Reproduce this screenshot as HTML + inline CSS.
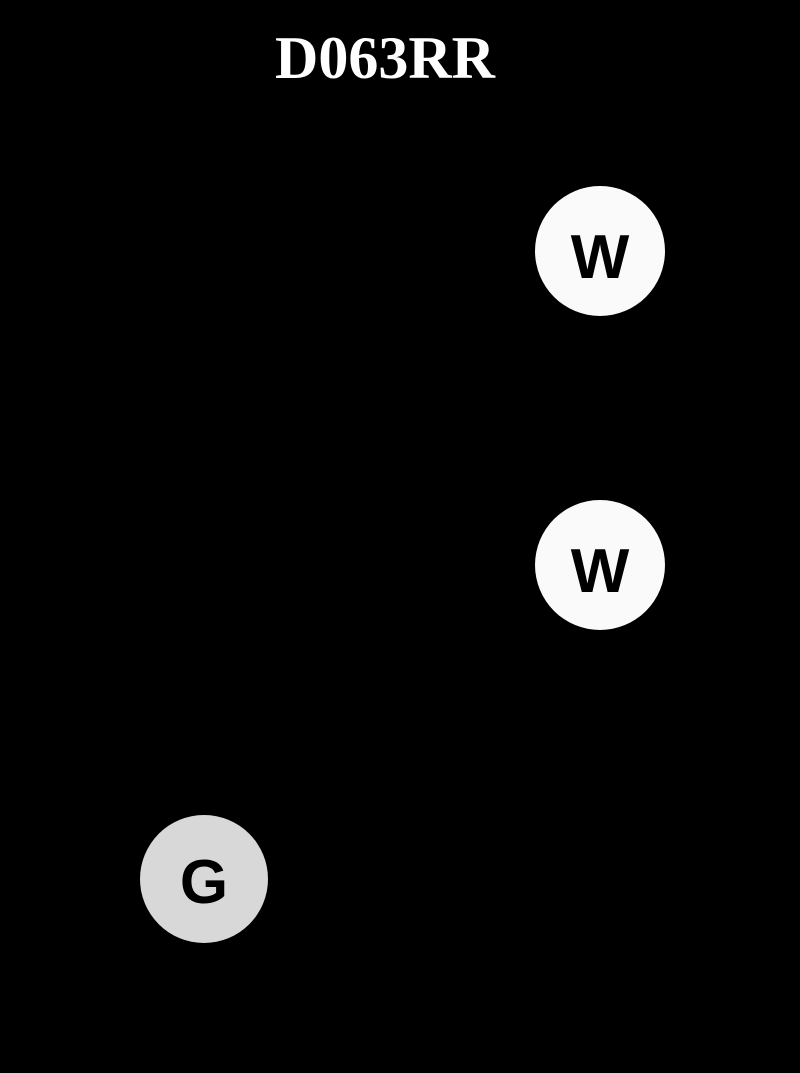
<!DOCTYPE html>
<html><head><style>
html,body{margin:0;padding:0;background:#000;width:800px;height:1073px;overflow:hidden}
.t{position:absolute;left:0;width:770px;text-align:center;top:24px;font:bold 60px "Liberation Serif",serif;color:#fff}
.c{position:absolute;width:130px;height:130px;border-radius:50%;display:flex;align-items:center;justify-content:center;font:bold 62px "Liberation Sans",sans-serif;color:#000;box-sizing:border-box;padding-top:12px}
</style></head><body>
<div class="t">D063RR</div>
<div class="c" style="left:535px;top:186px;background:#fafafa">W</div>
<div class="c" style="left:535px;top:500px;background:#fafafa">W</div>
<div class="c" style="left:140px;top:815px;background:#d8d8d8;width:128px;height:128px;padding-top:6px">G</div>
</body></html>
